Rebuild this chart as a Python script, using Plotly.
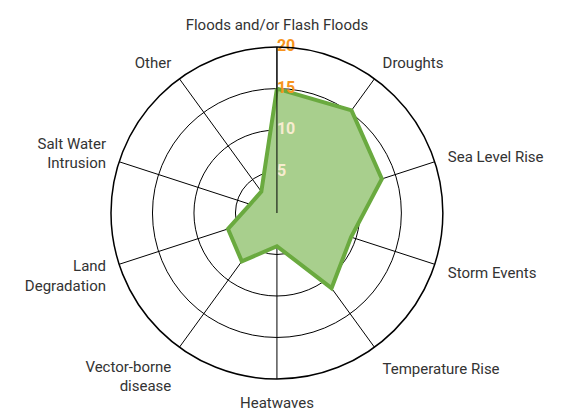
import plotly.graph_objects as go

categories = ["Floods and/or Flash Floods", "Droughts", "Sea Level Rise", "Storm Events",
              "Temperature Rise", "Heatwaves", "Vector-borne<br>disease", "Land<br>Degradation",
              "Salt Water<br>Intrusion", "Other"]
values = [15, 15.3, 13.3, 9.4, 11.2, 4, 7.2, 6.2, 3.4, 3.2]
tick_vals = [5, 10, 15, 20]
tick_labels = ["5", "10", "15", "20"]
tick_colors = ["#f7ecd0", "#f7ecd0", "#f7941d", "#f7941d"]

theta = categories + [categories[0]]
r = values + [values[0]]

fig = go.Figure()
fig.add_trace(go.Scatterpolar(
    r=r, theta=theta, mode="lines", fill="toself",
    fillcolor="#a8cf8d", line=dict(color="#6aaa3f", width=4),
    hoverinfo="skip", showlegend=False,
))
fig.add_trace(go.Scatterpolar(
    r=tick_vals, theta=[categories[0]] * len(tick_vals), mode="text",
    text=tick_labels, textposition="middle right",
    textfont=dict(family="Roboto", size=16, color=tick_colors, weight="bold"),
    hoverinfo="skip", showlegend=False,
))

font_family = "Roboto, sans-serif"
fig.update_layout(
    width=562, height=414,
    margin=dict(l=0, r=0, t=0, b=0),
    paper_bgcolor="white",
    font=dict(family=font_family, size=15, color="#333333"),
    polar=dict(
        domain=dict(x=[0.1975, 0.788], y=[0.0845, 0.8864]),
        bgcolor="rgba(0,0,0,0)",
        angularaxis=dict(
            direction="clockwise", rotation=90,
            categoryorder="array", categoryarray=categories,
            showline=True, linecolor="black", linewidth=1.5,
            gridcolor="black", gridwidth=1,
            ticks="outside", ticklen=10, tickcolor="rgba(0,0,0,0)",
            tickfont=dict(size=15, color="#333333", family=font_family),
            layer="above traces",
        ),
        radialaxis=dict(
            range=[0, 20], angle=90,
            tickvals=tick_vals, showticklabels=False,
            showline=True, linecolor="black", linewidth=1,
            gridcolor="black", gridwidth=1,
            ticks="",
            layer="above traces",
        ),
    ),
)

fig.write_html("out.html", config={"displayModeBar": False},
               post_script="document.body.style.margin='0px';")
